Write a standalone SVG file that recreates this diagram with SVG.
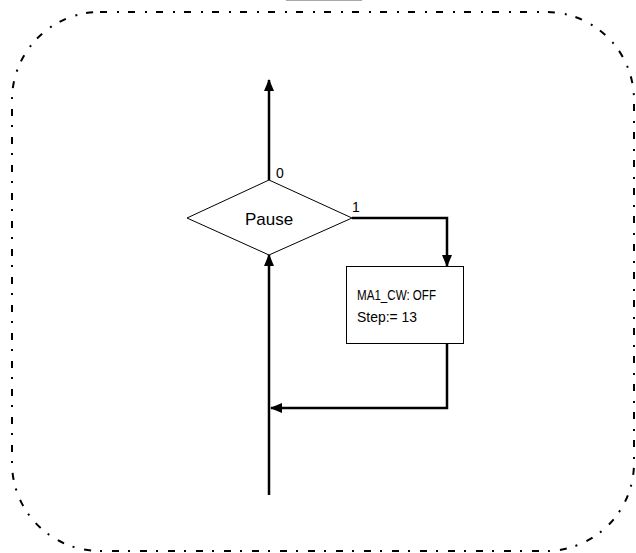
<svg xmlns="http://www.w3.org/2000/svg" width="636" height="553" viewBox="0 0 636 553">
<style>
.frame{fill:none;stroke:#000;stroke-width:2;stroke-dasharray:7 10 2 9}
.shape{fill:#fff;stroke:#000;stroke-width:1}
.conn{fill:none;stroke:#000;stroke-width:2.5}
.t{font-family:"Liberation Sans",Arial,sans-serif;fill:#000}
</style>
<defs>
<marker id="ah" markerUnits="userSpaceOnUse" markerWidth="12" markerHeight="12" viewBox="0 0 12 12" refX="11" refY="6" orient="auto">
<path d="M0,1 L12,6 L0,11 Z" fill="#000"/>
</marker>
</defs>
<line x1="286" y1="0.5" x2="362" y2="0.5" stroke="#aaa" stroke-width="1"/>
<rect class="frame" x="12" y="12" width="622" height="539" rx="88" ry="88"/>
<g id="connectors">
<path class="conn" d="M269,180 L269,80" marker-end="url(#ah)"/>
<path class="conn" d="M352,218 L447,218 L447,266" marker-end="url(#ah)"/>
<path class="conn" d="M447,344 L447,408 L271,408" marker-end="url(#ah)"/>
<path class="conn" d="M269,495 L269,255" marker-end="url(#ah)"/>
</g>
<g id="pause">
<polygon class="shape" points="269,180 352,218 269,255 187,218"/>
<text class="t" x="269" y="225" font-size="17" text-anchor="middle">Pause</text>
<text class="t" x="276" y="178" font-size="14">0</text>
<text class="t" x="352" y="212" font-size="14">1</text>
</g>
<g id="action">
<rect class="shape" x="346.5" y="266.5" width="117" height="77"/>
<text class="t" x="357" y="300" font-size="15" textLength="79" lengthAdjust="spacingAndGlyphs">MA1_CW: OFF</text>
<text class="t" x="357" y="322" font-size="15" textLength="60" lengthAdjust="spacingAndGlyphs">Step:= 13</text>
</g>
</svg>
